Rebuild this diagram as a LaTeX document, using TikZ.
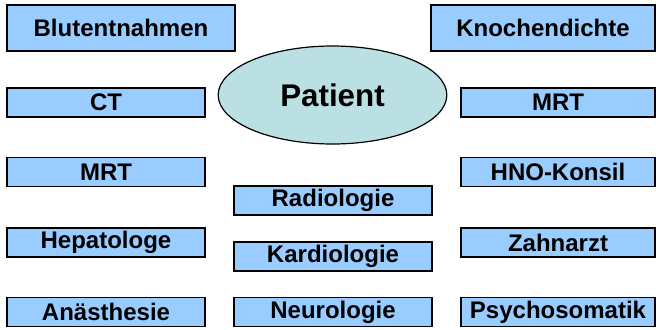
\documentclass[tikz,border=0pt]{standalone}
\usepackage{fontspec}
\setmainfont{Liberation Sans}
\usepackage{tikz}
\usetikzlibrary{positioning,shapes.geometric}
\definecolor{boxblue}{RGB}{153,204,255}
\definecolor{patientcyan}{RGB}{187,224,227}
\tikzset{%
	fach/.style    = {draw, rectangle, fill=boxblue, line width=1.1pt, inner sep=0pt, minimum width=148.5pt, minimum height=21.5pt, font=\fontsize{18}{20}\selectfont\bfseries, text centered},
	patient/.style = {draw, ellipse, fill=patientcyan, line width=0.9pt, inner sep=0pt, minimum width=171.5pt, minimum height=73.5pt, font=\fontsize{23.5}{26}\selectfont\bfseries},
}
\begin{document}
\begin{tikzpicture}[x=0.75pt,y=-0.75pt]
	\useasboundingbox (0,0) rectangle (656,329);
	% centre
	\node[patient] (pat) at (332.5,95) {Patient};
	% left column
	\node[fach, minimum width=171pt, minimum height=34.5pt] (blut) at (121,28) {Blutentnahmen};
	\node[fach] (ct)    at (106,102.5) {CT};
	\node[fach] (mrtl)  at (106,172)   {MRT};
	\node[fach] (hepa)  at (106,242.5) {Hepatologe};
	\node[fach] (anae)  at (106,312)   {Anästhesie};
	% middle column
	\node[fach] (radio) at (333,200.5) {Radiologie};
	\node[fach] (kard)  at (333,256.5) {Kardiologie};
	\node[fach] (neuro) at (333,312)   {Neurologie};
	% right column
	\node[fach, minimum width=168pt, minimum height=34.5pt] (knoch) at (543,28) {Knochendichte};
	\node[fach, minimum width=145.5pt] (mrtr)  at (558,102.5) {MRT};
	\node[fach, minimum width=145.5pt] (hno)   at (558,172)   {HNO-Konsil};
	\node[fach, minimum width=145.5pt] (zahn)  at (558,242.5) {Zahnarzt};
	\node[fach, minimum width=145.5pt] (psych) at (558,312)   {Psychosomatik};
\end{tikzpicture}
\end{document}
